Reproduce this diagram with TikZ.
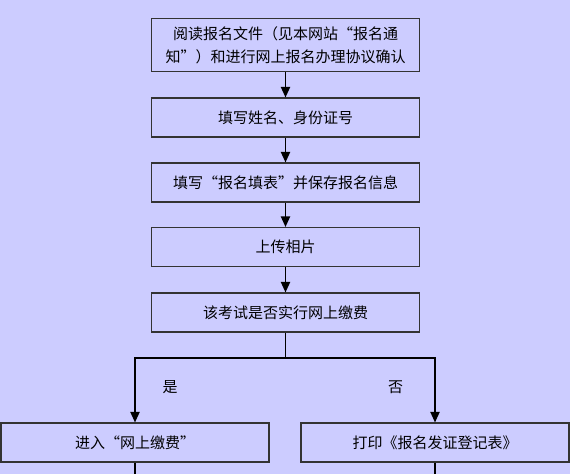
\documentclass[tikz,border=0pt]{standalone}
\usepackage{fontspec}
\newfontfamily\cjk{Noto Sans CJK SC}
\usetikzlibrary{arrows.meta}
\definecolor{bgblue}{HTML}{CCCCFF}
\definecolor{edgegray}{HTML}{333333}
\tikzset{
    box/.style={draw=edgegray, line width=1.1pt, fill=bgblue, minimum width=201pt,
        minimum height=29pt, align=center, inner sep=0pt,
        font=\cjk\fontsize{11.25}{17.25}\selectfont},
    lbl/.style={font=\cjk\fontsize{11.25}{15}\selectfont},
    line/.style={draw=black, line width=1.1pt},
    arr/.style={line, -{Triangle[length=8pt,width=7pt]}}
}
\begin{document}
\begin{tikzpicture}[x=0.75pt, y=-0.75pt]
        \fill[bgblue] (0,0) rectangle (570,474);
        \useasboundingbox (0,0) rectangle (570,474);

        \node[box, minimum height=39.75pt] (read) at (285.5,45) {阅读报名文件（见本网站“报名通\\知”）和进行网上报名办理协议确认};
        \node[box] (fill) at (285.5,117.5) {填写姓名、身份证号};
        \node[box] (save) at (285.5,182.5) {填写“报名填表”并保存报名信息};
        \node[box] (photo) at (285.5,247) {上传相片};
        \node[box] (ask) at (285.5,312.5) {该考试是否实行网上缴费};

        \coordinate (split) at (285.5,358);
        \node[box] (pay) at (135,442.5) {进入“网上缴费”};
        \node[box] (print) at (435,442.5) {打印《报名发证登记表》};
        \coordinate (payend) at (135,474);
        \coordinate (printend) at (435,474);

        \node[lbl] (yes) at (170,387) {是};
        \node[lbl] (no) at (395.5,387) {否};

        \draw[arr] (read) -- (fill);
        \draw[arr] (fill) -- (save);
        \draw[arr] (save) -- (photo);
        \draw[arr] (photo) -- (ask);
        \draw[line] (ask) -- (split);
        \draw[arr] (split) -| (pay);
        \draw[arr] (split) -| (print);
        \draw[line] (pay) -- (payend);
        \draw[line] (print) -- (printend);
    \end{tikzpicture}
\end{document}
